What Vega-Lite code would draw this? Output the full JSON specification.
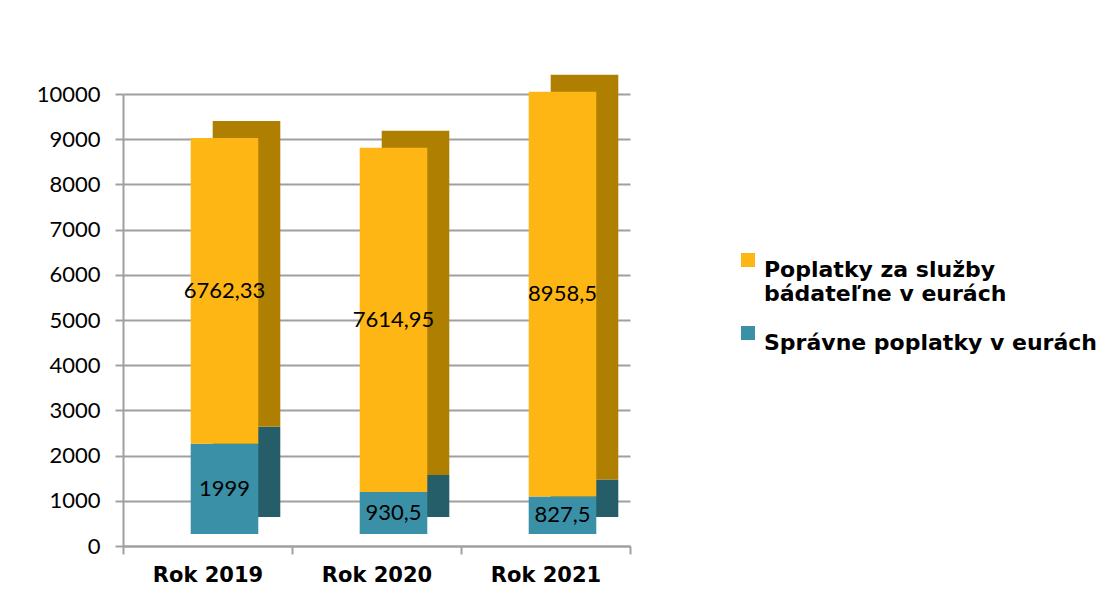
{
  "$schema": "https://vega.github.io/schema/vega-lite/v6.json",
  "autosize": {"type": "none"},
  "padding": {"left": 123, "top": 94, "right": 469, "bottom": 66},
  "width": 507,
  "height": 452,
  "background": "white",
  "config": {
    "font": "Lato",
    "view": {"stroke": null},
    "axis": {"labelFont": "Lato", "labelColor": "black", "titleFont": "Lato"}
  },
  "data": {
    "values": [
      {"rok": "Rok 2019", "series": "Správne poplatky v eurách", "value": 1999, "label": "1999"},
      {"rok": "Rok 2019", "series": "Poplatky za služby bádateľne v eurách", "value": 6762.33, "label": "6762,33"},
      {"rok": "Rok 2020", "series": "Správne poplatky v eurách", "value": 930.5, "label": "930,5"},
      {"rok": "Rok 2020", "series": "Poplatky za služby bádateľne v eurách", "value": 7614.95, "label": "7614,95"},
      {"rok": "Rok 2021", "series": "Správne poplatky v eurách", "value": 827.5, "label": "827,5"},
      {"rok": "Rok 2021", "series": "Poplatky za služby bádateľne v eurách", "value": 8958.5, "label": "8958,5"}
    ]
  },
  "encoding": {
    "x": {
      "field": "rok",
      "type": "nominal",
      "scale": {"paddingInner": 0, "paddingOuter": 0},
      "axis": {
        "title": null,
        "labelAngle": 0,
        "labelFont": "DejaVu Sans",
        "labelFontSize": 21,
        "labelFontWeight": "bold",
        "labelPadding": 10,
        "tickSize": 8,
        "tickBand": "extent",
        "tickColor": "#A0A0A0",
        "tickWidth": 2,
        "domainColor": "#A0A0A0",
        "domainWidth": 2
      }
    },
    "y": {
      "field": "value",
      "type": "quantitative",
      "stack": "zero",
      "scale": {"domain": [0, 10000]},
      "axis": {
        "title": null,
        "format": "d",
        "values": [0, 1000, 2000, 3000, 4000, 5000, 6000, 7000, 8000, 9000, 10000],
        "labelFontSize": 22,
        "labelPadding": 15,
        "tickSize": 8,
        "tickColor": "#A0A0A0",
        "tickWidth": 2,
        "domainColor": "#A0A0A0",
        "domainWidth": 2,
        "grid": true,
        "gridColor": "#A0A0A0",
        "gridWidth": 2
      }
    },
    "order": {"field": "series", "sort": "descending"}
  },
  "resolve": {"scale": {"color": "independent"}, "legend": {"color": "independent"}},
  "layer": [
    {
      "mark": {"type": "bar", "xOffset": 39, "yOffset": -29, "width": {"band": 0.4}},
      "encoding": {
        "color": {
          "field": "series",
          "type": "nominal",
          "scale": {
            "domain": ["Poplatky za služby bádateľne v eurách", "Správne poplatky v eurách"],
            "range": ["#AE7F00", "#255D69"]
          },
          "legend": null
        }
      }
    },
    {
      "mark": {"type": "bar", "xOffset": 17, "yOffset": -12, "width": {"band": 0.4}},
      "encoding": {
        "color": {
          "field": "series",
          "type": "nominal",
          "scale": {
            "domain": ["Poplatky za služby bádateľne v eurách", "Správne poplatky v eurách"],
            "range": ["#FDB614", "#3A90A6"]
          },
          "legend": {
            "title": null,
            "orient": "none",
            "legendX": 614,
            "legendY": 155,
            "symbolType": "square",
            "symbolSize": 196,
            "symbolStrokeWidth": 0,
            "labelFontSize": 22,
            "labelFontWeight": "bold",
            "labelFont": "DejaVu Sans",
            "labelColor": "black",
            "labelLimit": 400,
            "rowPadding": 17,
            "labelOffset": 5,
            "labelBaseline": "top",
            "symbolOffset": 0,
            "labelExpr": "datum.label == 'Poplatky za služby bádateľne v eurách' ? ['Poplatky za služby', 'bádateľne v eurách'] : datum.label"
          }
        }
      }
    },
    {
      "mark": {"type": "text", "xOffset": 17, "yOffset": -12, "fontSize": 22, "font": "Lato", "color": "black"},
      "encoding": {
        "y": {"field": "value", "type": "quantitative", "stack": "zero", "bandPosition": 0.5},
        "text": {"field": "label"}
      }
    }
  ]
}
